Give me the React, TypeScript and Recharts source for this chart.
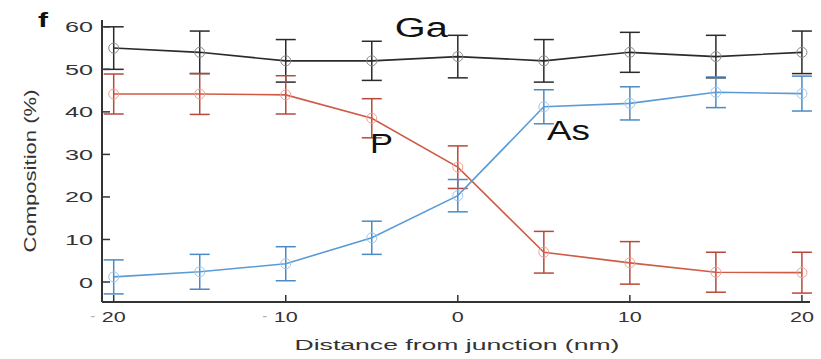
import React from 'react';
import { ComposedChart, Line, XAxis, YAxis, ErrorBar, ReferenceDot } from 'recharts';

const distance = [-20, -15, -10, -5, 0, 5, 10, 15, 20];
const gaValues = [55, 54, 52, 52, 53, 52, 54, 53, 54];
const gaErrors = [5, 5, 5, 4.6, 5, 5, 4.7, 5, 5];
const pValues = [44.2, 44.2, 44, 38.5, 27, 7, 4.5, 2.3, 2.2];
const pErrors = [4.7, 4.8, 4.5, 4.6, 5, 4.9, 5, 4.7, 4.8];
const asValues = [1.2, 2.4, 4.3, 10.4, 20.3, 41.2, 42, 44.6, 44.3];
const asErrors = [4, 4.1, 4, 3.9, 3.8, 4, 3.9, 3.6, 4.1];
const xTicks = [-20, -10, 0, 10, 20];
const yTicks = [0, 10, 20, 30, 40, 50, 60];
const annotations = [
  { text: 'Ga', x: -2.12, y: 57.6, width: 53 },
  { text: 'P', x: -4.44, y: 30.35, width: 23 },
  { text: 'As', x: 6.43, y: 33.4, width: 43 },
];

const rows = distance.map((d, i) => ({
  d,
  ga: gaValues[i],
  gaErr: gaErrors[i],
  p: pValues[i],
  pErr: pErrors[i],
  as: asValues[i],
  asErr: asErrors[i],
}));

const FONT = '"Liberation Sans", Arial, sans-serif';
const GA = '#2a2a2a';
const P = '#d05a45';
const PE = '#b8493a';
const AS = '#5b9bd5';
const ASE = '#4a8bc6';

const XTick = (props: any) => {
  const { x, y, payload } = props;
  const v = payload.value as number;
  const s = String(Math.abs(v));
  return (
    <g>
      <text x={x} y={y + 11} textAnchor="middle" fontSize={15} fontFamily={FONT} fill="#333"
        textLength={s.length * 12} lengthAdjust="spacingAndGlyphs">{s}</text>
      {v < 0 && (
        <text x={x - 21} y={y + 10} textAnchor="middle" fontSize={15} fontFamily={FONT} fill="#b0b0b0">-</text>
      )}
    </g>
  );
};

const YTick = (props: any) => {
  const { x, y, payload } = props;
  const s = String(payload.value);
  return (
    <text x={x} y={y + 5.5} textAnchor="end" fontSize={15} fontFamily={FONT} fill="#333"
      textLength={s.length * 14} lengthAdjust="spacingAndGlyphs">{s}</text>
  );
};

const XTitle = (props: any) => {
  const vb = props.viewBox || { x: 102, y: 302, width: 708, height: 57 };
  return (
    <text x={vb.x + vb.width / 2 + 1} y={vb.y + 48} textAnchor="middle" fontSize={15} fontFamily={FONT} fill="#333"
      textLength={325} lengthAdjust="spacingAndGlyphs">Distance from junction (nm)</text>
  );
};

const YTitle = (props: any) => {
  const vb = props.viewBox || { x: 0, y: 20, width: 102, height: 282 };
  const cy = vb.y + vb.height / 2 + 10;
  return (
    <g>
      <text transform={`translate(36, ${cy}) rotate(-90)`} textAnchor="middle" fontSize={16} fontFamily={FONT}
        fill="#333" textLength={163} lengthAdjust="spacingAndGlyphs">Composition (%)</text>
      <text x={43} y={vb.y + 7} textAnchor="middle" fontSize={20} fontWeight="bold" fontFamily={FONT} fill="#111"
        textLength={10} lengthAdjust="spacingAndGlyphs">f</text>
    </g>
  );
};

export default function App() {
  return (
    <div style={{ position: 'absolute', left: 0, top: 0, background: '#fff' }}>
      <ComposedChart width={821} height={359} data={rows} margin={{ top: 20, right: 11, left: 0, bottom: 0 }}>
        <XAxis dataKey="d" type="number" domain={[-20.68, 20.47]} ticks={xTicks} interval={0} allowDataOverflow
          height={57} tick={<XTick />} tickSize={-7} tickMargin={16}
          axisLine={{ stroke: '#333', strokeWidth: 2 }} tickLine={{ stroke: '#333', strokeWidth: 1.5 }}
          label={<XTitle />} />
        <YAxis type="number" domain={[-4.7, 61.6]} ticks={yTicks} interval={0} allowDataOverflow
          width={102} tick={<YTick />} tickSize={-8} tickMargin={17}
          axisLine={{ stroke: '#333', strokeWidth: 2 }} tickLine={{ stroke: '#333', strokeWidth: 1.5 }}
          label={<YTitle />} />
        <Line dataKey="ga" stroke={GA} strokeWidth={1.6} isAnimationActive={false}
          dot={{ r: 5, fill: 'none', stroke: '#888', strokeWidth: 1 }} activeDot={false}>
          <ErrorBar dataKey="gaErr" width={10} stroke={GA} strokeWidth={1.5} direction="y" isAnimationActive={false} />
        </Line>
        <Line dataKey="p" stroke={P} strokeWidth={1.6} isAnimationActive={false}
          dot={{ r: 5, fill: 'none', stroke: '#f0a090', strokeWidth: 1 }} activeDot={false}>
          <ErrorBar dataKey="pErr" width={10} stroke={PE} strokeWidth={1.5} direction="y" isAnimationActive={false} />
        </Line>
        <Line dataKey="as" stroke={AS} strokeWidth={1.6} isAnimationActive={false}
          dot={{ r: 5, fill: 'none', stroke: '#9cc6ea', strokeWidth: 1 }} activeDot={false}>
          <ErrorBar dataKey="asErr" width={10} stroke={ASE} strokeWidth={1.5} direction="y" isAnimationActive={false} />
        </Line>
        {annotations.map((a) => (
          <ReferenceDot key={a.text} x={a.x} y={a.y} r={0} ifOverflow="visible"
            shape={(p: any) => (
              <text x={p.cx} y={p.cy} textAnchor="middle" fontSize={27} fontFamily={FONT} fill="#111"
                textLength={a.width} lengthAdjust="spacingAndGlyphs">{a.text}</text>
            )} />
        ))}
      </ComposedChart>
    </div>
  );
}
